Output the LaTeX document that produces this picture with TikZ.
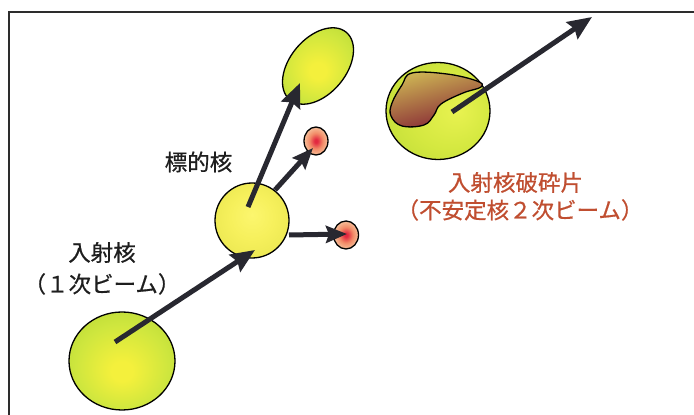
\documentclass[tikz,border=0pt]{standalone}
\usepackage{fontspec}
\newfontfamily\jpfont[FakeBold=0.6]{Noto Sans CJK JP}
\usetikzlibrary{shapes.geometric,arrows.meta}

% palette
\definecolor{frameC}{RGB}{45,45,45}
\definecolor{arrowC}{RGB}{40,40,48}
\definecolor{inkC}{RGB}{30,30,30}
\definecolor{fragText}{RGB}{192,78,48}
\definecolor{gbHi}{RGB}{244,240,60}
\definecolor{gbMid}{RGB}{206,230,62}
\definecolor{gbRim}{RGB}{168,206,46}
\definecolor{tgHi}{RGB}{252,246,110}
\definecolor{tgMid}{RGB}{246,240,92}
\definecolor{tgRim}{RGB}{226,224,72}
\definecolor{rsHi}{RGB}{232,242,80}
\definecolor{rsMid}{RGB}{212,232,64}
\definecolor{rsRim}{RGB}{178,212,50}
\definecolor{ndHi}{RGB}{226,40,64}
\definecolor{ndMid}{RGB}{242,140,104}
\definecolor{ndRim}{RGB}{248,214,176}
\definecolor{frTop}{RGB}{206,182,84}
\definecolor{frMid}{RGB}{172,108,64}
\definecolor{frBot}{RGB}{132,34,52}

% radial shadings for the nuclei
\pgfdeclareradialshading{greenball}{\pgfpoint{0bp}{-6bp}}{color(0bp)=(gbHi); color(5bp)=(gbHi); color(22bp)=(gbMid); color(42bp)=(gbRim)}
\pgfdeclareradialshading{targetball}{\pgfpoint{0bp}{4bp}}{color(0bp)=(tgHi); color(15bp)=(tgMid); color(42bp)=(tgRim)}
\pgfdeclareradialshading{rightball}{\pgfpoint{10bp}{0bp}}{color(0bp)=(rsHi); color(20bp)=(rsMid); color(46bp)=(rsRim)}
\pgfdeclareradialshading{nucleon}{\pgfpoint{0bp}{0bp}}{color(0bp)=(ndHi); color(3bp)=(ndHi); color(14bp)=(ndMid); color(30bp)=(ndRim)}

\tikzset{
  ball/.style={ellipse, draw=black, line width=1.3pt, inner sep=0pt, shade},
  beam/.style={draw=arrowC, line width=5pt, line cap=butt,
    -{Stealth[length=24pt,width=20pt,inset=3pt]}},
  smallbeam/.style={beam, -{Stealth[length=21pt,width=17pt,inset=3pt]}},
  jlabel/.style={font=\jpfont\fontsize{22.5}{27}\selectfont, text=inkC, inner sep=0pt, anchor=base},
  rlabel/.style={jlabel, text=fragText}
}

\begin{document}
\begin{tikzpicture}[x=1pt,y=1pt]
\useasboundingbox (0,0) rectangle (694,415);
\fill[white] (0,0) rectangle (694,415);

% page frame
\draw[frameC, line width=1.3pt] (9,0) -- (9,403) -- (694,403);

% nuclei
\node[ball, shading=greenball, minimum width=106pt, minimum height=98pt] (proj) at (122,54) {};
\node[ball, shading=targetball, minimum width=74pt, minimum height=75pt] (target) at (252,194.5) {};
\node[ball, shading=greenball, rotate=50, minimum width=88pt, minimum height=56pt] (scat) at (318,349) {};
\node[ball, shading=nucleon, minimum width=24pt, minimum height=28pt] (nucA) at (316,274) {};
\node[ball, shading=nucleon, minimum width=25pt, minimum height=28pt] (nucB) at (346,180) {};
\node[ball, shading=rightball, minimum width=104pt, minimum height=97pt] (frag) at (438,304) {};

% removed piece of the projectile
\shadedraw[draw=black, line width=1.3pt, top color=frTop, middle color=frMid, bottom color=frBot, shading angle=15]
  plot[smooth cycle, tension=0.65] coordinates {
    (412,342) (447,341) (477,334) (481,328) (463,322) (441,311)
    (434,300) (424,290) (402,289) (391,299) (392,312) (402,330)};

% arrow end points
\coordinate (a1s) at (115,73);
\coordinate (a1e) at (255,165);
\coordinate (a2s) at (248,208);
\coordinate (a2e) at (300,332);
\coordinate (a3s) at (275,225);
\coordinate (a3e) at (313,267);
\coordinate (a4s) at (289,180);
\coordinate (a4e) at (347,181);
\coordinate (a5s) at (452,303);
\coordinate (a5e) at (592,398);

\draw[beam] (a1s) -- (a1e);
\draw[beam] (a2s) -- (a2e);
\draw[smallbeam] (a3s) -- (a3e);
\draw[smallbeam] (a4s) -- (a4e);
\draw[beam] (a5s) -- (a5e);

% labels
\node[jlabel] (lblTarget) at (198.5,244.5) {標的核};
\node[jlabel] (lblProj) at (102,154) {入射核};
\node[jlabel] (lblProjSub) at (102,122.5) {（１次ビーム）};
\node[rlabel] (lblFrag) at (515.5,224) {入射核破砕片};
\node[rlabel] (lblFragSub) at (520,196.5) {（不安定核２次ビーム）};
\end{tikzpicture}
\end{document}
